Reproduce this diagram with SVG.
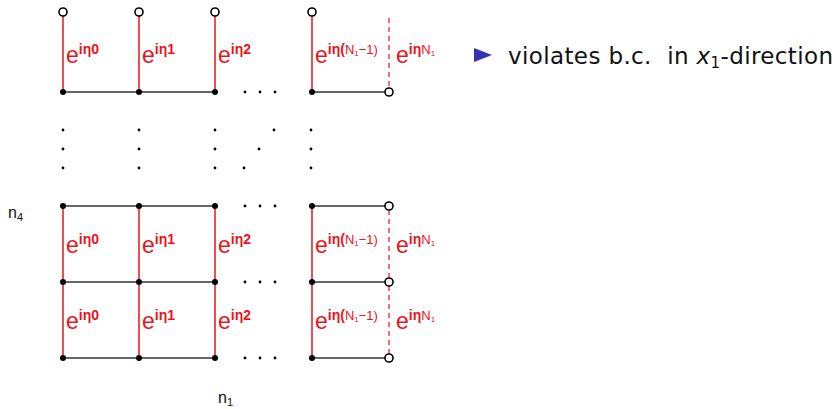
<svg xmlns="http://www.w3.org/2000/svg" width="840" height="409" viewBox="0 0 840 409">
<style>
.h{stroke:#333;stroke-width:1.6;fill:none}
.v{stroke:#e8141c;stroke-width:1.5;fill:none}
.d{stroke:#f04048;stroke-width:1.5;fill:none;stroke-dasharray:5,4}
.fd{fill:#000}
.od{fill:#fff;stroke:#000;stroke-width:1.6}
.sd{fill:#000}
.lb{font-family:"Liberation Sans",Arial,sans-serif;fill:#e8141c}
.e{font-size:23px}
.s{font-size:14px;font-weight:bold}
.n{font-size:13px}
.k{font-size:8px}
.t{font-family:"DejaVu Sans","Liberation Sans",sans-serif;font-size:23px;fill:#111}
.ax{font-family:"Liberation Sans",Arial,sans-serif;font-size:16px;fill:#111}
</style>
<g id="connectors">
<path class="h" d="M63 92H215M312 92H389M63 206H215M312 206H389M63 282H215M312 282H389M63 358H215M312 358H389"/>
<path class="v" d="M63 12V92M139 12V92M215 12V92M312 12V92M63 206V358M139 206V358M215 206V358M312 206V358"/>
<path class="d" d="M389 18V88M389 210V278M389 286V354"/>
</g>
<g id="nodes">
<circle class="fd" cx="63" cy="92" r="3"/><circle class="fd" cx="139" cy="92" r="3"/><circle class="fd" cx="215" cy="92" r="3"/><circle class="fd" cx="312" cy="92" r="3"/>
<circle class="fd" cx="63" cy="206" r="3"/><circle class="fd" cx="139" cy="206" r="3"/><circle class="fd" cx="215" cy="206" r="3"/><circle class="fd" cx="312" cy="206" r="3"/>
<circle class="fd" cx="63" cy="282" r="3"/><circle class="fd" cx="139" cy="282" r="3"/><circle class="fd" cx="215" cy="282" r="3"/><circle class="fd" cx="312" cy="282" r="3"/>
<circle class="fd" cx="63" cy="358" r="3"/><circle class="fd" cx="139" cy="358" r="3"/><circle class="fd" cx="215" cy="358" r="3"/><circle class="fd" cx="312" cy="358" r="3"/>
<circle class="od" cx="63" cy="12" r="4"/><circle class="od" cx="139" cy="12" r="4"/><circle class="od" cx="215" cy="12" r="4"/><circle class="od" cx="312" cy="12" r="4"/>
<circle class="od" cx="389" cy="92" r="4"/><circle class="od" cx="389" cy="206" r="4"/><circle class="od" cx="389" cy="282" r="4"/><circle class="od" cx="389" cy="358" r="4"/>
</g>
<g id="ellipses">
<circle class="sd" cx="245" cy="92" r="1.4"/><circle class="sd" cx="260" cy="92" r="1.4"/><circle class="sd" cx="275" cy="92" r="1.4"/>
<circle class="sd" cx="245" cy="206" r="1.4"/><circle class="sd" cx="260" cy="206" r="1.4"/><circle class="sd" cx="275" cy="206" r="1.4"/>
<circle class="sd" cx="245" cy="282" r="1.4"/><circle class="sd" cx="260" cy="282" r="1.4"/><circle class="sd" cx="275" cy="282" r="1.4"/>
<circle class="sd" cx="245" cy="358" r="1.4"/><circle class="sd" cx="260" cy="358" r="1.4"/><circle class="sd" cx="275" cy="358" r="1.4"/>
<circle class="sd" cx="63" cy="130" r="1.4"/><circle class="sd" cx="63" cy="149" r="1.4"/><circle class="sd" cx="63" cy="168" r="1.4"/>
<circle class="sd" cx="139" cy="130" r="1.4"/><circle class="sd" cx="139" cy="149" r="1.4"/><circle class="sd" cx="139" cy="168" r="1.4"/>
<circle class="sd" cx="215" cy="130" r="1.4"/><circle class="sd" cx="215" cy="149" r="1.4"/><circle class="sd" cx="215" cy="168" r="1.4"/>
<circle class="sd" cx="311" cy="130" r="1.4"/><circle class="sd" cx="311" cy="149" r="1.4"/><circle class="sd" cx="311" cy="168" r="1.4"/>
<circle class="sd" cx="244" cy="168" r="1.4"/><circle class="sd" cx="259" cy="149" r="1.4"/><circle class="sd" cx="274" cy="130" r="1.4"/>
</g>
<g id="labels">
<text class="lb" x="66" y="63"><tspan class="e">e</tspan><tspan class="s" dy="-9">iη0</tspan></text>
<text class="lb" x="142" y="63"><tspan class="e">e</tspan><tspan class="s" dy="-9">iη1</tspan></text>
<text class="lb" x="218" y="63"><tspan class="e">e</tspan><tspan class="s" dy="-9">iη2</tspan></text>
<text class="lb" x="315" y="63"><tspan class="e">e</tspan><tspan class="s" dy="-9">iη(</tspan><tspan class="n">N</tspan><tspan class="k" dy="2">1</tspan><tspan class="n" dy="-2">−1)</tspan></text>
<text class="lb" x="396" y="63"><tspan class="e">e</tspan><tspan class="s" dy="-9">iη</tspan><tspan class="n">N</tspan><tspan class="k" dy="2">1</tspan></text>

<text class="lb" x="66" y="253"><tspan class="e">e</tspan><tspan class="s" dy="-9">iη0</tspan></text>
<text class="lb" x="142" y="253"><tspan class="e">e</tspan><tspan class="s" dy="-9">iη1</tspan></text>
<text class="lb" x="218" y="253"><tspan class="e">e</tspan><tspan class="s" dy="-9">iη2</tspan></text>
<text class="lb" x="315" y="253"><tspan class="e">e</tspan><tspan class="s" dy="-9">iη(</tspan><tspan class="n">N</tspan><tspan class="k" dy="2">1</tspan><tspan class="n" dy="-2">−1)</tspan></text>
<text class="lb" x="396" y="253"><tspan class="e">e</tspan><tspan class="s" dy="-9">iη</tspan><tspan class="n">N</tspan><tspan class="k" dy="2">1</tspan></text>

<text class="lb" x="66" y="329"><tspan class="e">e</tspan><tspan class="s" dy="-9">iη0</tspan></text>
<text class="lb" x="142" y="329"><tspan class="e">e</tspan><tspan class="s" dy="-9">iη1</tspan></text>
<text class="lb" x="218" y="329"><tspan class="e">e</tspan><tspan class="s" dy="-9">iη2</tspan></text>
<text class="lb" x="315" y="329"><tspan class="e">e</tspan><tspan class="s" dy="-9">iη(</tspan><tspan class="n">N</tspan><tspan class="k" dy="2">1</tspan><tspan class="n" dy="-2">−1)</tspan></text>
<text class="lb" x="396" y="329"><tspan class="e">e</tspan><tspan class="s" dy="-9">iη</tspan><tspan class="n">N</tspan><tspan class="k" dy="2">1</tspan></text>

<text class="ax" x="8" y="218">n<tspan font-size="11" dy="3">4</tspan></text>
<text class="ax" x="218" y="403">n<tspan font-size="11" dy="3">1</tspan></text>
</g>
<g id="bullet">
<path d="M474 48L492 55L474 62Z" fill="#3333b3"/>
<text class="t" x="508" y="64" textLength="325" lengthAdjust="spacing">violates b.c.&#160; in <tspan font-style="italic">x</tspan><tspan font-size="15" dy="4">1</tspan><tspan dy="-4">-direction</tspan></text>
</g>
</svg>
